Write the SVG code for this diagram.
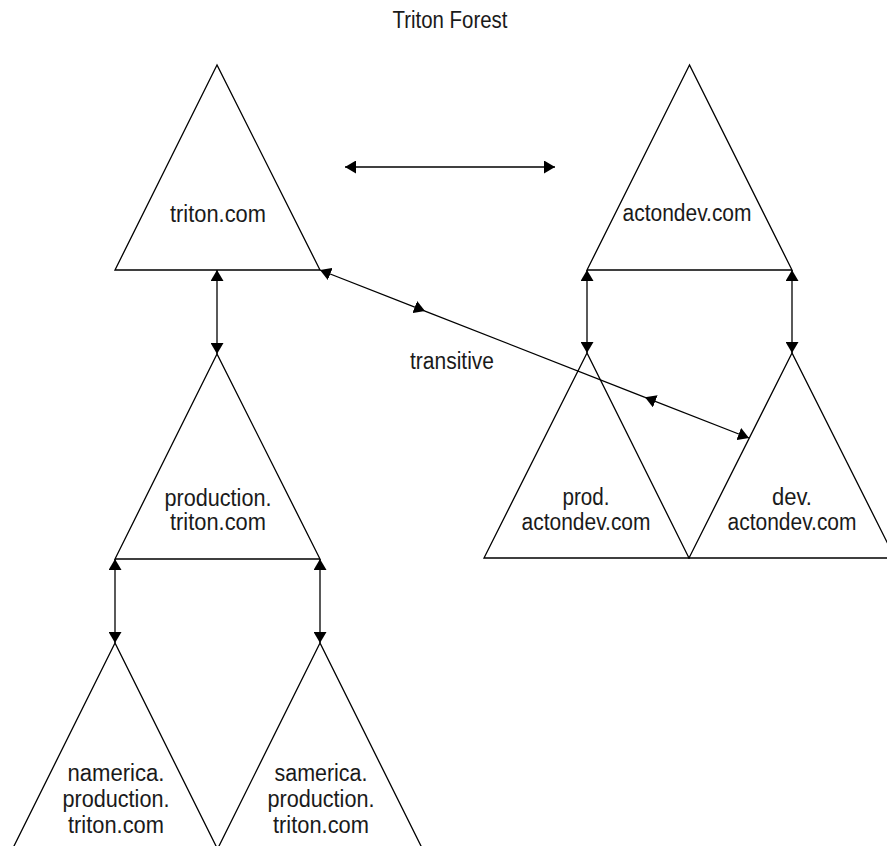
<svg xmlns="http://www.w3.org/2000/svg" width="887" height="846" viewBox="0 0 887 846">
<style>
.tri{fill:none;stroke:#000;stroke-width:1.3;stroke-linejoin:miter}
.lbl{font-family:"Liberation Sans",Arial,sans-serif;font-size:23px;fill:#1a1a1a;text-anchor:middle}
.con{stroke:#000;stroke-width:1.3;fill:none}
.arr{marker-start:url(#ah);marker-end:url(#ah)}
</style>
<defs>
<marker id="ah" markerUnits="userSpaceOnUse" markerWidth="12" markerHeight="13" refX="11" refY="6.5" orient="auto-start-reverse" viewBox="0 0 12 13">
<path d="M0,0 L11,6.5 L0,13 z" fill="#000"/>
</marker>
</defs>
<rect width="887" height="846" fill="#fff"/>
<text class="lbl" x="450" y="28" textLength="115" lengthAdjust="spacingAndGlyphs">Triton Forest</text>

<g id="triton">
<polygon class="tri" points="217,65 115,270 320,270"/>
<text class="lbl" x="218" y="222" textLength="96" lengthAdjust="spacingAndGlyphs">triton.com</text>
</g>
<g id="actondev">
<polygon class="tri" points="689.5,65 587,270 792,270"/>
<text class="lbl" x="687" y="221" textLength="129" lengthAdjust="spacingAndGlyphs">actondev.com</text>
</g>
<g id="production">
<polygon class="tri" points="217,354 115,559 320,559"/>
<text class="lbl" x="218" y="506" textLength="107" lengthAdjust="spacingAndGlyphs">production.</text>
<text class="lbl" x="218" y="530" textLength="96" lengthAdjust="spacingAndGlyphs">triton.com</text>
</g>
<g id="prod">
<polygon class="tri" points="587,353 484,558 689,558"/>
<text class="lbl" x="586" y="505" textLength="47" lengthAdjust="spacingAndGlyphs">prod.</text>
<text class="lbl" x="586" y="530" textLength="129" lengthAdjust="spacingAndGlyphs">actondev.com</text>
</g>
<g id="dev">
<polygon class="tri" points="792,353 689,558 895,558"/>
<text class="lbl" x="792" y="505" textLength="40" lengthAdjust="spacingAndGlyphs">dev.</text>
<text class="lbl" x="792" y="530" textLength="129" lengthAdjust="spacingAndGlyphs">actondev.com</text>
</g>
<g id="namerica">
<polygon class="tri" points="115,643 13,848 217,848"/>
<text class="lbl" x="116" y="781" textLength="97" lengthAdjust="spacingAndGlyphs">namerica.</text>
<text class="lbl" x="116" y="807" textLength="107" lengthAdjust="spacingAndGlyphs">production.</text>
<text class="lbl" x="116" y="833" textLength="96" lengthAdjust="spacingAndGlyphs">triton.com</text>
</g>
<g id="samerica">
<polygon class="tri" points="320,643 218,848 422,848"/>
<text class="lbl" x="321" y="781" textLength="93" lengthAdjust="spacingAndGlyphs">samerica.</text>
<text class="lbl" x="321" y="807" textLength="107" lengthAdjust="spacingAndGlyphs">production.</text>
<text class="lbl" x="321" y="833" textLength="96" lengthAdjust="spacingAndGlyphs">triton.com</text>
</g>

<g id="connectors">
<line class="con arr" x1="345" y1="167" x2="555" y2="167"/>
<line class="con arr" x1="217" y1="270" x2="217" y2="354"/>
<line class="con arr" x1="115" y1="559" x2="115" y2="643"/>
<line class="con arr" x1="320" y1="559" x2="320" y2="643"/>
<line class="con arr" x1="587" y1="270" x2="587" y2="353"/>
<line class="con arr" x1="792" y1="270" x2="792" y2="353"/>
<line class="con arr" x1="320" y1="270" x2="425" y2="311.1"/>
<line class="con" x1="425" y1="311.1" x2="645" y2="397.3"/>
<line class="con arr" x1="645" y1="397.3" x2="749" y2="438"/>
<text class="lbl" x="452" y="369" textLength="84" lengthAdjust="spacingAndGlyphs">transitive</text>
</g>
</svg>
